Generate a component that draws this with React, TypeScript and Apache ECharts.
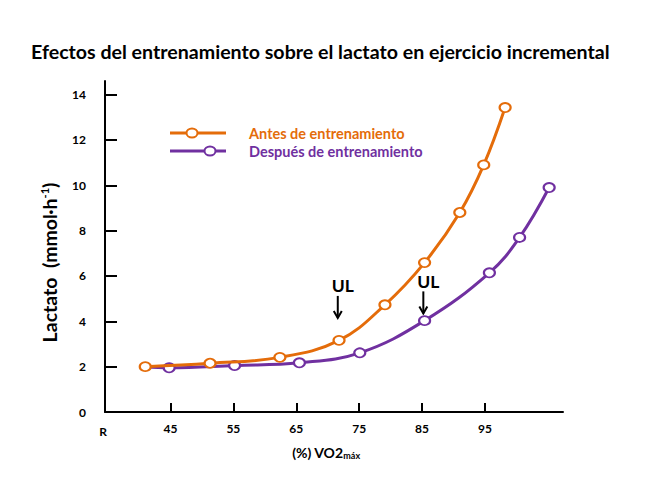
import React, { useEffect, useRef } from "react";
import * as echarts from "echarts";

const titleText = "Efectos del entrenamiento sobre el lactato en ejercicio incremental";
const seriesNames = ["Antes de entrenamiento", "Después de entrenamiento"];

// %VO2max values and lactate (mmol)
const antesX = [41.0, 51.3, 62.4, 71.8, 79.1, 85.4, 91.0, 94.8, 98.2];
const antesY = [2.0, 2.15, 2.41, 3.16, 4.73, 6.59, 8.8, 10.9, 13.43];
const despuesX = [41.0, 44.8, 55.2, 65.5, 75.1, 85.4, 95.7, 100.5, 105.2];
const despuesY = [2.0, 1.95, 2.05, 2.17, 2.61, 4.03, 6.14, 7.7, 9.9];
const despuesMarkerFrom = 1; // first point is only the start of the line

const xTicks = [45, 55, 65, 75, 85, 95];
const xStartLabel = "R";
const yTicks = [0, 2, 4, 6, 8, 10, 12, 14];

// UL (umbral de lactato) arrows: tip positions in data units
const ulX = [71.6, 85.2];
const ulY = [4.15, 4.35];
const ulLabel = "UL";

const ORANGE = "#E46C0A";
const PURPLE = "#7030A0";
const FONT = "Lato";

export default function App() {
  const ref = useRef<HTMLDivElement>(null);
  useEffect(() => {
    if (!ref.current) return;
    const chart = echarts.init(ref.current, undefined, { renderer: "svg" });
    const xMin = 34.6;
    const xMax = 107.4;
    const mk = (xs: number[], ys: number[], from: number) =>
      xs.map((x, i) => (i < from ? { value: [x, ys[i]], symbol: "none" } : { value: [x, ys[i]] }));

    const option: any = {
      animation: false,
      backgroundColor: "#ffffff",
      textStyle: { fontFamily: FONT },
      title: {
        text: titleText,
        left: 26,
        top: 36,
        textStyle: { fontFamily: FONT, fontWeight: "bold", fontSize: 19.6, color: "#000" },
      },
      grid: { left: 105, right: 102, top: 81, bottom: 81 },
      xAxis: {
        type: "value",
        min: xMin,
        max: xMax,
        splitLine: { show: false },
        axisLine: { lineStyle: { color: "#000", width: 2 } },
        axisTick: { customValues: xTicks, inside: true, length: 9, lineStyle: { color: "#000", width: 2 } },
        axisLabel: {
          customValues: [xMin, ...xTicks],
          formatter: (v: number) => (v < 40 ? "{r|" + xStartLabel + "}" : String(v)),
          color: "#000",
          fontWeight: "bold",
          fontSize: 12,
          fontFamily: FONT,
          margin: 10,
          rich: {
            r: { fontSize: 12, fontWeight: "bold", fontFamily: FONT, color: "#000", padding: [3, 4, 0, 0] },
          },
        },
        name: "(%) VO2{sub|máx}",
        nameLocation: "middle",
        nameGap: 32,
        nameTextStyle: {
          color: "#000",
          fontWeight: "bold",
          fontSize: 14,
          fontFamily: FONT,
          padding: [0, 16, 0, 0],
          rich: {
            sub: { fontSize: 9, fontWeight: "bold", fontFamily: FONT, color: "#000", verticalAlign: "bottom", padding: [7, 0, 0, 0] },
          },
        },
      },
      yAxis: {
        type: "value",
        min: 0,
        max: 14.6,
        splitLine: { show: false },
        axisLine: { lineStyle: { color: "#000", width: 2 } },
        axisTick: { customValues: yTicks, inside: true, length: 12, lineStyle: { color: "#000", width: 2 } },
        axisLabel: {
          customValues: yTicks,
          color: "#000",
          fontWeight: "bold",
          fontSize: 12,
          fontFamily: FONT,
          margin: 19,
        },
        name: "Lactato  (mmol·h{sup|-1})",
        nameLocation: "middle",
        nameRotate: 90,
        nameGap: 46,
        nameTextStyle: {
          color: "#000",
          fontWeight: "bold",
          fontSize: 19.5,
          fontFamily: FONT,
          padding: [0, 32, 0, 0],
          rich: {
            sup: { fontSize: 11, fontWeight: "bold", fontFamily: FONT, color: "#000", verticalAlign: "top", padding: [0, 0, 9, 0] },
          },
        },
      },
      series: [
        {
          name: seriesNames[0],
          type: "line",
          smooth: 0.4,
          data: mk(antesX, antesY, 0),
          symbol: "emptyCircle",
          symbolSize: [11, 9],
          lineStyle: { color: ORANGE, width: 3 },
          itemStyle: { color: ORANGE, borderColor: ORANGE, borderWidth: 2 },
          z: 3,
        },
        {
          name: seriesNames[1],
          type: "line",
          smooth: 0.4,
          data: mk(despuesX, despuesY, despuesMarkerFrom),
          symbol: "emptyCircle",
          symbolSize: [11, 9],
          lineStyle: { color: PURPLE, width: 3 },
          itemStyle: { color: PURPLE, borderColor: PURPLE, borderWidth: 2 },
          z: 2,
        },
      ],
    };
    chart.setOption(option);

    // Legend drawn as graphic (line with off-centre hollow marker)
    const legendItems = [
      { color: ORANGE, y: 133, mx: 192, text: seriesNames[0] },
      { color: PURPLE, y: 151, mx: 210, text: seriesNames[1] },
    ];
    const graphics: any[] = [];
    legendItems.forEach((it) => {
      graphics.push({ type: "line", shape: { x1: 170, y1: it.y, x2: 226, y2: it.y }, style: { stroke: it.color, lineWidth: 3 } });
      graphics.push({ type: "ellipse", shape: { cx: it.mx, cy: it.y, rx: 5.5, ry: 4.5 }, style: { fill: "#fff", stroke: it.color, lineWidth: 2 } });
      graphics.push({
        type: "text",
        x: 249,
        y: it.y,
        style: { text: it.text, fill: it.color, font: `bold 14.5px ${FONT}`, textVerticalAlign: "middle" },
      });
    });
    ulX.forEach((x, i) => {
      const [px, py] = chart.convertToPixel({ gridIndex: 0 }, [x, ulY[i]]) as number[];
      const len = 22;
      graphics.push({ type: "line", shape: { x1: px, y1: py - len, x2: px, y2: py }, style: { stroke: "#000", lineWidth: 2 } });
      graphics.push({
        type: "polyline",
        shape: { points: [[px - 4, py - 7], [px, py], [px + 4, py - 7]] },
        style: { stroke: "#000", lineWidth: 2, fill: null },
      });
      graphics.push({
        type: "text",
        x: px + 5,
        y: py - len - 10,
        style: { text: ulLabel, fill: "#000", font: `bold 17.5px ${FONT}`, textAlign: "center", textVerticalAlign: "middle" },
      });
    });
    chart.setOption({ graphic: graphics });

    return () => chart.dispose();
  }, []);
  return <div ref={ref} style={{ width: 665, height: 493, position: "absolute", left: 0, top: 0 }} />;
}
